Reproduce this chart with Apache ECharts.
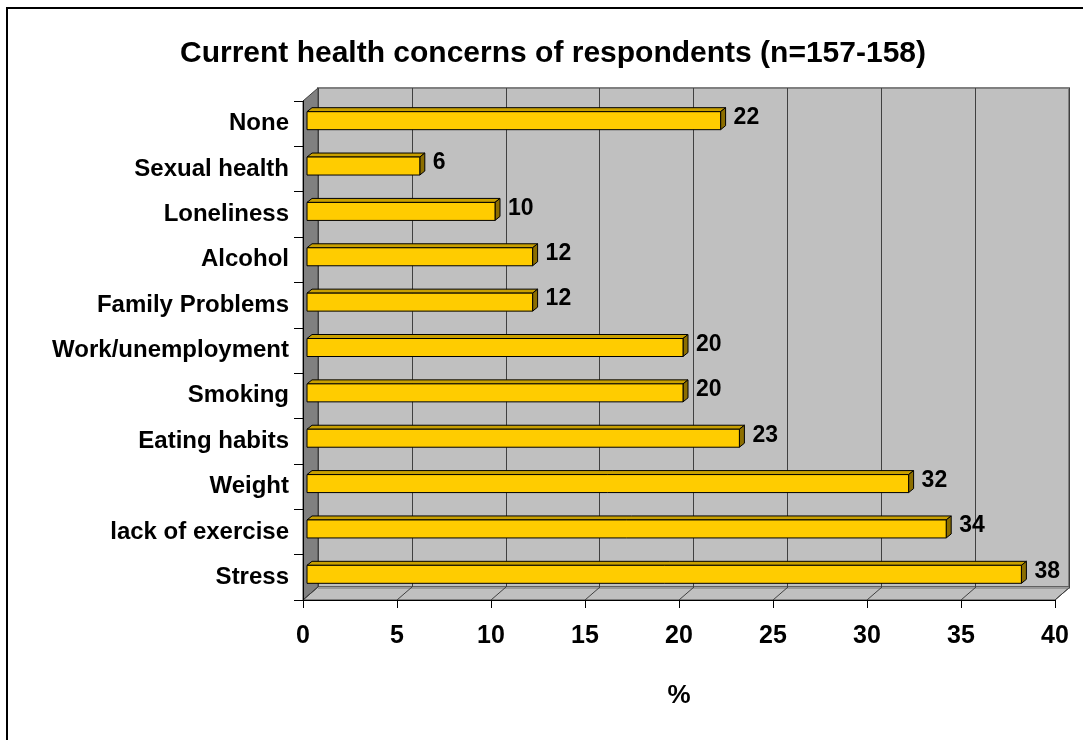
<!DOCTYPE html>
<html>
<head>
<meta charset="utf-8">
<title>Current health concerns of respondents</title>
<script src="https://cdn.jsdelivr.net/npm/echarts@6/dist/echarts.min.js"></script>
<style>
  html, body { margin: 0; padding: 0; background: #fff; }
  #chart { width: 1083px; height: 740px; }
</style>
</head>
<body>
<div id="chart"></div>
<script>
// categories listed bottom to top (echarts puts the first one at the bottom)
const categories = ['Stress', 'lack of exercise', 'Weight', 'Eating habits', 'Smoking',
  'Work/unemployment', 'Family Problems', 'Alcohol', 'Loneliness', 'Sexual health', 'None']
const values = [38, 34, 32, 23, 20, 20, 12, 12, 10, 6, 22]
const xTicks = [0, 5, 10, 15, 20, 25, 30, 35, 40]

const FONT = "'Liberation Sans', Arial, sans-serif"
// depth of the fake 3d box
const DX = 15
const DY = 13
// bar placement inside the depth
const BAR_OFF = 4
const BAR_DEPTH = 5
const BAR_H = 18

const chart = echarts.init(document.getElementById('chart'))

// side wall + floor with the floor gridlines
const renderWalls = (params, api) => {
  const cs = params.coordSys
  const x = cs.x, y = cs.y, w = cs.width, h = cs.height
  const children = [
    {
      type: 'polygon',
      shape: { points: [[x, y], [x + DX, y - DY], [x + DX, y + h - DY], [x, y + h]] },
      style: { fill: '#808080', stroke: '#404040', lineWidth: 1 }
    },
    {
      type: 'polygon',
      shape: { points: [[x, y + h], [x + w, y + h], [x + w + DX, y + h - DY], [x + DX, y + h - DY]] },
      style: { fill: '#C0C0C0', stroke: '#404040', lineWidth: 1 }
    },
    {
      type: 'line',
      shape: { x1: x + DX, y1: y + h - DY + 1, x2: x + w + DX, y2: y + h - DY + 1 },
      style: { stroke: '#9a9a9a', lineWidth: 2 }
    }
  ]
  xTicks.forEach(t => {
    const px = api.coord([t, 0])[0]
    children.push({
      type: 'line',
      shape: { x1: px, y1: y + h, x2: px + DX, y2: y + h - DY },
      style: { stroke: '#404040', lineWidth: 1 }
    })
  })
  return { type: 'group', children }
}

const renderBar = (params, api) => {
  const idx = api.value(0)
  const val = api.value(1)
  const p0 = api.coord([0, idx])
  const p1 = api.coord([val, idx])
  const xa = p0[0] + BAR_OFF
  const xb = p1[0] + BAR_OFF
  const cy = p0[1] - BAR_OFF + 1
  const yt = cy - BAR_H / 2
  const yb = cy + BAR_H / 2
  const d = BAR_DEPTH
  return {
    type: 'group',
    children: [
      {
        type: 'polygon',
        shape: { points: [[xa, yt], [xb, yt], [xb + d, yt - d + 1], [xa + d, yt - d + 1]] },
        style: { fill: '#C9A000', stroke: '#000', lineWidth: 1 }
      },
      {
        type: 'polygon',
        shape: { points: [[xb, yt], [xb + d, yt - d + 1], [xb + d, yb - d + 1], [xb, yb]] },
        style: { fill: '#8C6E00', stroke: '#000', lineWidth: 1 }
      },
      {
        type: 'rect',
        shape: { x: xa, y: yt, width: xb - xa, height: BAR_H },
        style: { fill: '#FFCC00', stroke: '#000', lineWidth: 1 }
      },
      {
        type: 'text',
        x: xb + d + 8,
        y: cy - 3,
        style: {
          text: String(val),
          fill: '#000',
          fontSize: 23,
          fontWeight: 'bold',
          fontFamily: FONT,
          align: 'left',
          verticalAlign: 'middle'
        }
      }
    ]
  }
}

const option = {
  animation: false,
  backgroundColor: '#fff',
  graphic: [
    {
      type: 'rect',
      shape: { x: 7, y: 8, width: 1200, height: 1000 },
      style: { fill: 'none', stroke: '#000', lineWidth: 2 },
      silent: true
    },
    {
      type: 'text',
      x: 553,
      y: 54,
      style: {
        text: 'Current health concerns of respondents (n=157-158)',
        fill: '#000',
        fontSize: 30,
        fontWeight: 'bold',
        fontFamily: FONT,
        align: 'center',
        verticalAlign: 'middle'
      }
    }
  ],
  grid: [
    // front plane: axes, labels, bars
    { left: 303, right: 28, top: 101, bottom: 140 },
    // back wall
    {
      left: 318, right: 14, top: 88, bottom: 153,
      show: true, backgroundColor: '#C0C0C0', borderColor: '#808080', borderWidth: 2
    }
  ],
  xAxis: [
    {
      gridIndex: 0,
      type: 'value',
      min: 0,
      max: 40,
      interval: 5,
      z: 5,
      axisLine: { show: true, lineStyle: { color: '#000', width: 1 } },
      axisTick: { show: true, length: 8, lineStyle: { color: '#000' } },
      axisLabel: { margin: 24, color: '#000', fontSize: 25, fontWeight: 'bold', fontFamily: FONT },
      splitLine: { show: false },
      name: '%',
      nameLocation: 'middle',
      nameGap: 96,
      nameTextStyle: { color: '#000', fontSize: 26, fontWeight: 'bold', fontFamily: FONT, verticalAlign: 'middle' }
    },
    {
      gridIndex: 1,
      type: 'value',
      min: 0,
      max: 40,
      interval: 5,
      axisLine: { show: false },
      axisTick: { show: false },
      axisLabel: { show: false },
      splitLine: { show: true, lineStyle: { color: '#404040', width: 1 } }
    }
  ],
  yAxis: [
    {
      gridIndex: 0,
      type: 'category',
      data: categories,
      z: 5,
      axisLine: { show: true, lineStyle: { color: '#000', width: 1 } },
      axisTick: { show: true, length: 9, lineStyle: { color: '#000' } },
      axisLabel: { margin: 14, color: '#000', fontSize: 24, fontWeight: 'bold', fontFamily: FONT },
      splitLine: { show: false }
    },
    {
      gridIndex: 1,
      type: 'value',
      show: false,
      splitLine: { show: false }
    }
  ],
  series: [
    {
      name: 'walls',
      type: 'custom',
      xAxisIndex: 0,
      yAxisIndex: 0,
      z: 1,
      silent: true,
      renderItem: renderWalls,
      data: [[0, 0]]
    },
    {
      name: 'concerns',
      type: 'custom',
      xAxisIndex: 0,
      yAxisIndex: 0,
      z: 3,
      renderItem: renderBar,
      encode: { x: 1, y: 0 },
      data: values.map((v, i) => [i, v])
    }
  ]
}

chart.setOption(option)
</script>
</body>
</html>
